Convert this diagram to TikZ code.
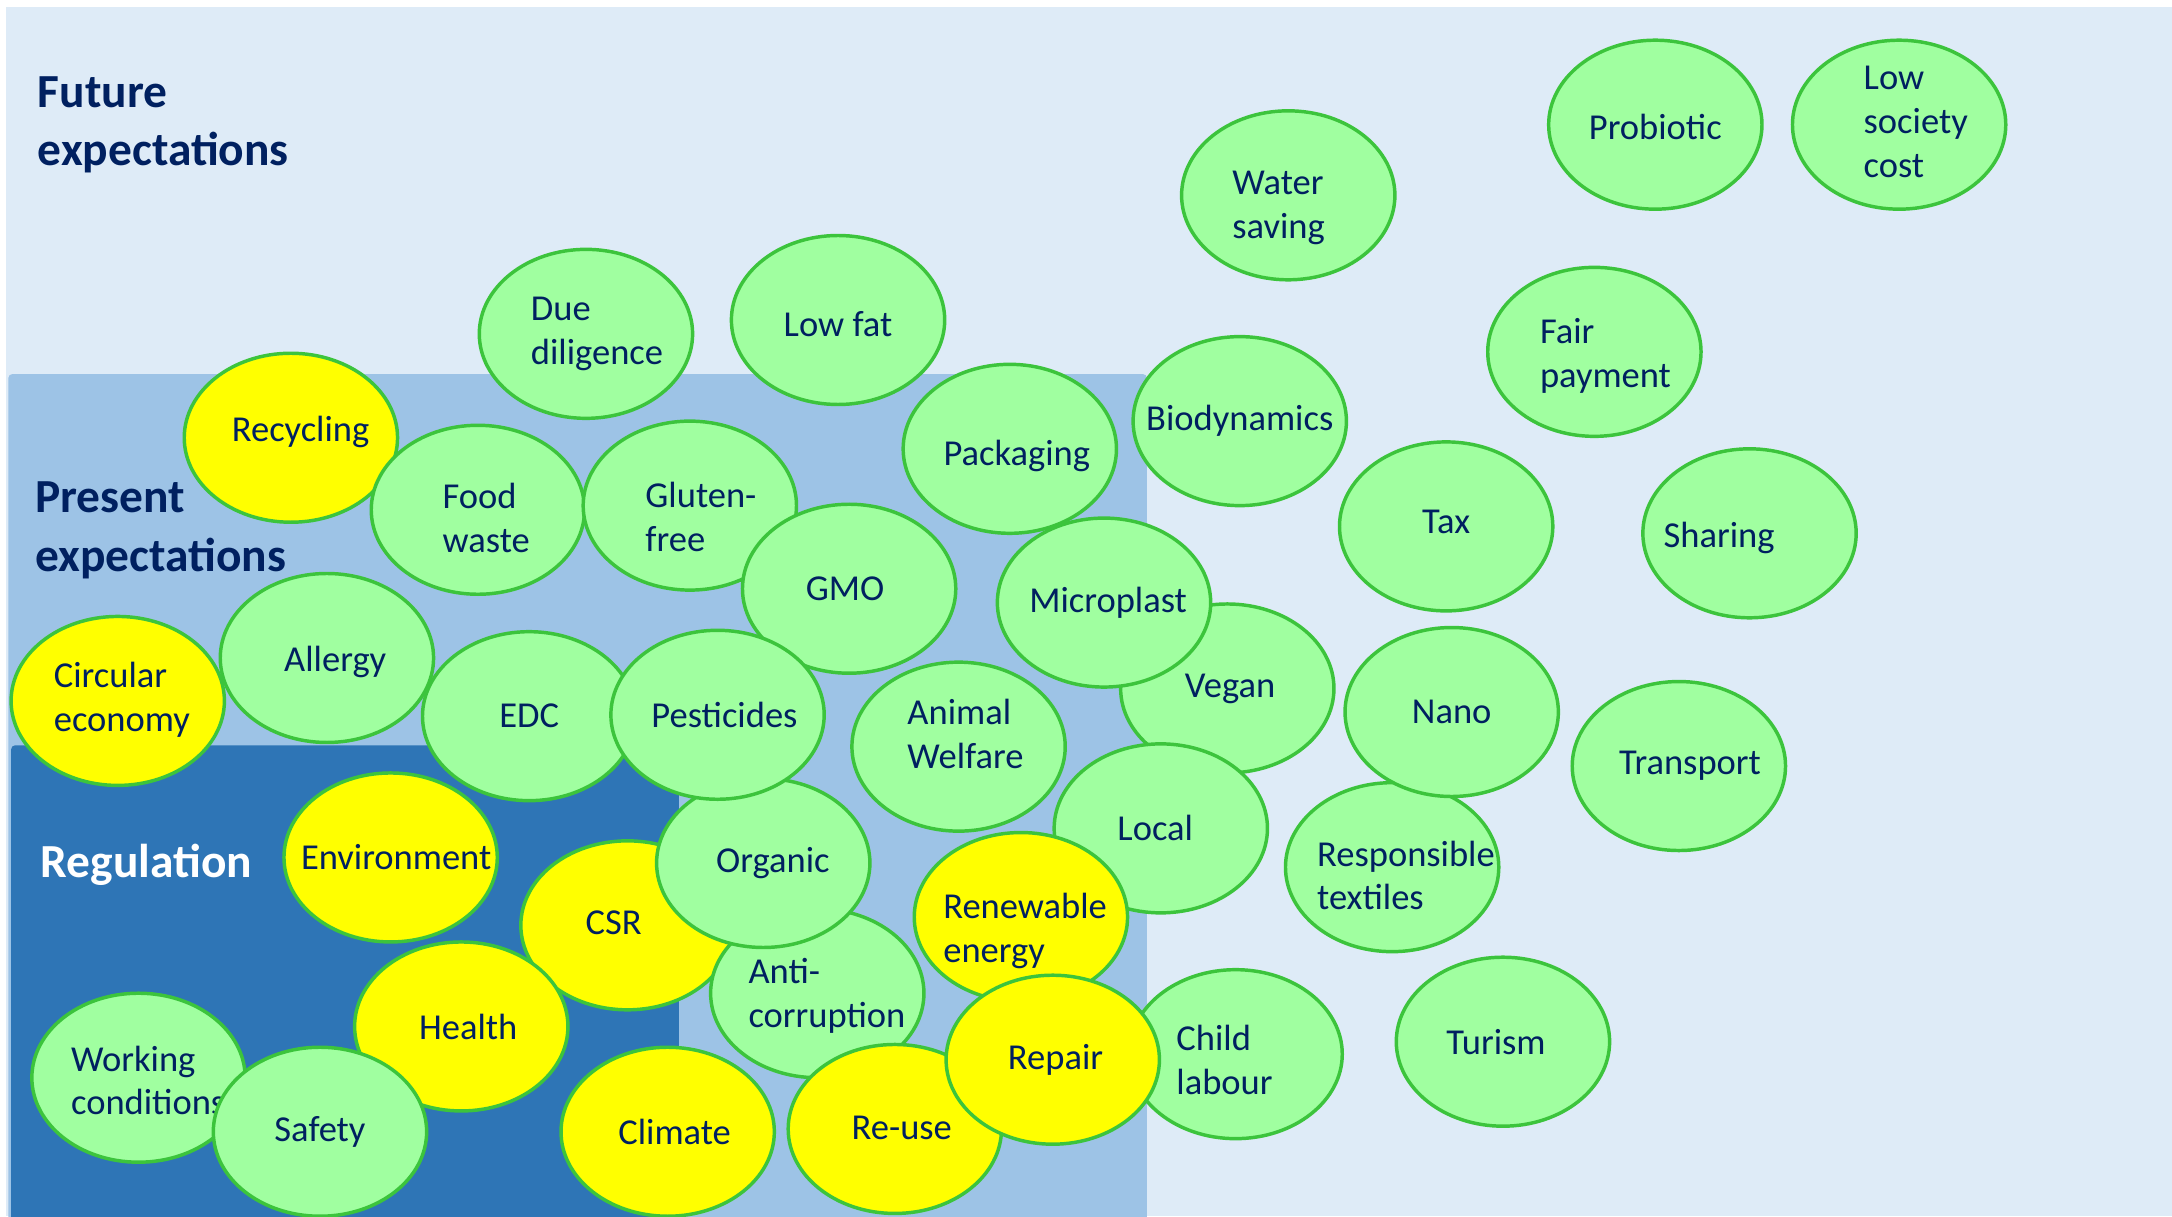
\documentclass[tikz,border=0pt]{standalone}
\usepackage{fontspec}
\setmainfont{Carlito}
\usepackage{tikz}
\usetikzlibrary{positioning}
\tikzstyle{chart} = [x = 0.2mm, y = -0.2mm]
\definecolor{futureColor}{RGB}{222,235,247}
\definecolor{presentColor}{RGB}{157,195,230}
\definecolor{regulationColor}{RGB}{46,117,182}
\definecolor{bubbleGreen}{RGB}{160,255,160}
\definecolor{bubbleEdge}{RGB}{60,196,60}
\definecolor{bubbleYellow}{RGB}{255,255,0}
\definecolor{labelColor}{RGB}{0,32,96}
\tikzstyle{bubbleLine} = [draw=bubbleEdge, line width=0.5mm]
\tikzstyle{bubbleText} = [text=labelColor, align=left, inner sep=0pt, font=\fontsize{15}{18}\selectfont]
\tikzstyle{levelText} = [anchor=west, align=left, inner sep=0pt, font=\fontsize{19.5}{24}\selectfont\bfseries]
\tikzstyle{levelBox} = [rounded corners = .6mm]
\newcommand{\greenBubble}[5][0,0]{\filldraw [bubbleLine, fill=bubbleGreen] (#3, #4) ellipse (77 and 61); \node [bubbleText, shift={(#1)}] (#2) at (#3, #4) {#5};}
\newcommand{\yellowBubble}[5][0,0]{\filldraw [bubbleLine, fill=bubbleYellow] (#3, #4) ellipse (77 and 61); \node [bubbleText, shift={(#1)}] (#2) at (#3, #4) {#5};}

\begin{document}
\begin{tikzpicture}[chart]
        \useasboundingbox (0, 0) rectangle (1568, 878);
        \fill [futureColor] (4, 5) rectangle (1568, 878);
        \fill [levelBox, presentColor] (6, 270) rectangle (828, 890);
        \fill [levelBox, regulationColor] (8, 538) rectangle (490, 890);

        \node [levelText, text=labelColor] (future) at (27, 90) {Future\\expectations};
        \node [levelText, text=labelColor] (present) at (25, 383) {Present\\expectations};
        \node [levelText, text=white] (regulation) at (29, 624) {Regulation};

        % outer ring
        \greenBubble[8,0]{dueDiligence}{423}{241}{Due\\diligence}
        \greenBubble[0,3]{lowFat}{605}{231}{Low fat}
        \greenBubble[-7,9]{waterSaving}{930}{141}{Water\\saving}
        \greenBubble[0,2]{probiotic}{1195}{90}{Probiotic}
        \greenBubble[12,-2]{lowSociety}{1371}{90}{Low\\society\\cost}
        \greenBubble[8,3]{fairPayment}{1151}{254}{Fair\\payment}
        \greenBubble{biodynamics}{895}{304}{Biodynamics}
        \greenBubble[0,-3]{tax}{1044}{380}{Tax}
        \greenBubble[-22,3]{sharing}{1263}{385}{Sharing}
        \greenBubble[8,0]{transport}{1212}{553}{Transport}
        \greenBubble[-5,0]{turism}{1085}{752}{Turism}
        \greenBubble[10,6]{textiles}{1005}{626}{Responsible\\textiles}
        \greenBubble{nano}{1048}{514}{Nano}

        % present expectations
        \yellowBubble[7,-4]{recycling}{210}{316}{Recycling}
        \greenBubble[6,6]{foodWaste}{345}{368}{Food\\waste}
        \greenBubble[8,8]{glutenFree}{498}{365}{Gluten-\\free}
        \greenBubble[-3,0]{gmo}{613}{425}{GMO}
        \greenBubble[5,5]{packaging}{729}{324}{Packaging}
        \greenBubble[2,0]{vegan}{886}{497}{Vegan}
        \greenBubble[3,0]{microplast}{797}{435}{Microplast}
        \yellowBubble[3,-1]{circular}{85}{506}{Circular\\economy}
        \greenBubble[6,3]{allergy}{236}{475}{Allergy}
        \greenBubble{edc}{382}{517}{EDC}
        \greenBubble[5,-9]{animalWelfare}{692}{539}{Animal\\Welfare}
        \yellowBubble[-10,-2]{csr}{453}{668}{CSR}
        \greenBubble[7,2]{antiCorruption}{590}{717}{Anti-\\corruption}
        \greenBubble[7,0]{organic}{551}{623}{Organic}
        \greenBubble[5,0]{pesticides}{518}{516}{Pesticides}

        % regulation
        \yellowBubble[4,0]{environment}{282}{619}{Environment}
        \greenBubble[7,2]{workingConditions}{100}{778}{Working\\conditions}
        \yellowBubble[5,0]{health}{333}{741}{Health}
        \greenBubble{safety}{231}{817}{Safety}
        \yellowBubble[5,0]{climate}{482}{817}{Climate}
        \greenBubble[-8,4]{childLabour}{892}{761}{Child\\labour}
        \greenBubble[-4,0]{local}{838}{598}{Local}
        \yellowBubble[3,10]{renewable}{737}{662}{Renewable\\energy}
        \yellowBubble[5,-1]{reuse}{646}{815}{Re-use}
        \yellowBubble[2,0]{repair}{760}{765}{Repair}
      \end{tikzpicture}
\end{document}
